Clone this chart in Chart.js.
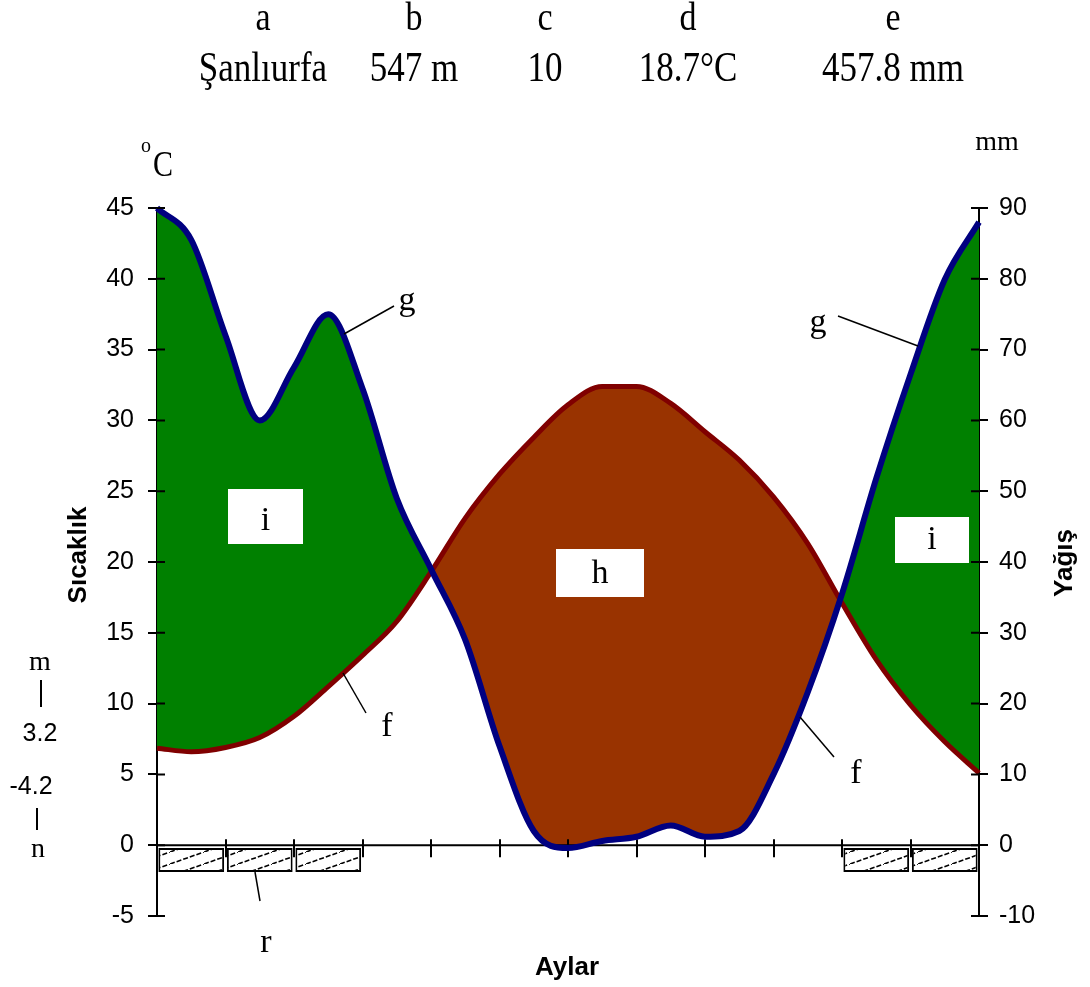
<!DOCTYPE html>
<html>
<head>
<meta charset="utf-8">
<script src="https://cdn.jsdelivr.net/npm/chart.js@4.4.1/dist/chart.umd.min.js"></script>
<style>
  html, body { margin: 0; padding: 0; background: #fff; }
  #wrap { width: 1090px; height: 987px; }
</style>
</head>
<body>
<div id="wrap"><canvas id="climateChart" width="1090" height="987"></canvas></div>
<script>
// x position in months (0 = start of January, 12 = end of December)
const months = [0, 0.5, 1, 1.5, 2, 2.5, 3, 3.5, 4, 4.5, 5, 5.5, 6, 6.5, 7, 7.5, 8, 8.5, 9, 9.5, 10, 10.5, 11, 11.5, 12];
// temperature curve (f), °C, left axis
const temperature = [6.85, 6.6, 6.9, 7.6, 9.1, 11.2, 13.4, 15.8, 19.3, 23.1, 26.2, 28.8, 31.1, 32.4, 32.4, 31.2, 29.2, 27.2, 24.6, 21.3, 17.1, 13.1, 9.9, 7.3, 5.1];
// precipitation curve (g), mm, right axis
const precipitation = [90, 85.5, 72, 60, 67.5, 75, 64.5, 49, 39, 29, 14, 2, -0.4, 0.6, 1.2, 2.8, 1.2, 2.0, 10, 21.6, 35.5, 51.8, 66.5, 79.9, 88];
// months with frost (r), centre of each month, and the band they cover on the °C axis
const frostMonths = [0.5, 1.5, 2.5, 10.5, 11.5];
const frostBand = [-1.9, -0.2];

// station header
const stationKeys = ['a', 'b', 'c', 'd', 'e'];
const stationValues = ['Şanlıurfa', '547 m', '10', '18.7°C', '457.8 mm'];

const serif = "'Liberation Serif', 'Times New Roman', serif";
const sans = "'Liberation Sans', Arial, sans-serif";

// hatch pattern for the frost boxes
const makeHatch = () => {
    const c = document.createElement('canvas');
    c.width = 34; c.height = 12;
    const g = c.getContext('2d');
    g.fillStyle = '#fff';
    g.fillRect(0, 0, 34, 12);
    g.strokeStyle = '#000';
    g.lineWidth = 1.6;
    g.setLineDash([5, 2]);
    g.beginPath();
    g.moveTo(0, 12); g.lineTo(34, 0);
    g.stroke();
    return g.createPattern(c, 'repeat');
};

const drawText = (ctx, str, x, y, font, align) => {
    ctx.font = font;
    ctx.textAlign = align || 'center';
    ctx.fillText(str, x, y);
};

// taller serif text like the scanned header
const drawTall = (ctx, str, x, y, font) => {
    ctx.save();
    ctx.translate(x, y);
    ctx.scale(1, 1.18);
    drawText(ctx, str, 0, 0, font);
    ctx.restore();
};

const line = (ctx, x1, y1, x2, y2) => {
    ctx.beginPath();
    ctx.moveTo(x1, y1);
    ctx.lineTo(x2, y2);
    ctx.stroke();
};

const labelBox = (ctx, str, x1, y1, x2, y2) => {
    ctx.fillStyle = '#fff';
    ctx.fillRect(x1, y1, x2 - x1, y2 - y1);
    ctx.fillStyle = '#000';
    drawText(ctx, str, (x1 + x2) / 2, y2 - 14, '34px ' + serif);
};

const climateDecor = {
    id: 'climateDecor',
    beforeDatasetsDraw(chart) {
        // zero line with month ticks
        const { ctx, scales: { x, y } } = chart;
        const y0 = y.getPixelForValue(0);
        ctx.save();
        ctx.strokeStyle = '#000';
        ctx.lineWidth = 2;
        ctx.beginPath();
        ctx.moveTo(x.left, y0);
        ctx.lineTo(x.right, y0);
        for (let m = 1; m < 12; m++) {
            const px = Math.round(x.getPixelForValue(m));
            ctx.moveTo(px, y0 - 6);
            ctx.lineTo(px, y0 + 12);
        }
        ctx.stroke();
        ctx.restore();
    },
    afterDatasetsDraw(chart) {
        // tick stubs inside the plot
        const { ctx, scales: { x, y, y1 } } = chart;
        ctx.save();
        ctx.strokeStyle = '#000';
        ctx.lineWidth = 2;
        ctx.beginPath();
        y.ticks.forEach(t => {
            const py = y.getPixelForValue(t.value);
            ctx.moveTo(x.left, py); ctx.lineTo(x.left + 8, py);
        });
        y1.ticks.forEach(t => {
            const py = y1.getPixelForValue(t.value);
            ctx.moveTo(x.right, py); ctx.lineTo(x.right - 8, py);
        });
        ctx.stroke();
        ctx.restore();
    },
    afterDraw(chart) {
        const ctx = chart.ctx;
        ctx.save();
        ctx.fillStyle = '#000';
        ctx.strokeStyle = '#000';
        ctx.textBaseline = 'alphabetic';

        // header
        const keyX = [263, 414, 545, 688, 893];
        stationKeys.forEach((k, i) => drawTall(ctx, k, keyX[i], 30, '34px ' + serif));
        stationValues.forEach((v, i) => drawTall(ctx, v, keyX[i], 81, '35px ' + serif));

        // unit labels
        drawText(ctx, 'o', 146, 152, '20px ' + serif);
        drawTall(ctx, 'C', 163, 176, '30px ' + serif);
        drawText(ctx, 'mm', 997, 150, '28px ' + serif);

        // axis titles
        ctx.font = 'bold 26px ' + sans;
        ctx.textAlign = 'center';
        ctx.save(); ctx.translate(86, 555); ctx.rotate(-Math.PI / 2); ctx.fillText('Sıcaklık', 0, 0); ctx.restore();
        ctx.save(); ctx.translate(1072, 563); ctx.rotate(-Math.PI / 2); ctx.fillText('Yağış', 0, 0); ctx.restore();
        drawText(ctx, 'Aylar', 567, 975, 'bold 26px ' + sans);

        // side legend m / n
        drawText(ctx, 'm', 40, 670, '28px ' + serif);
        drawText(ctx, '3.2', 40, 741, '25px ' + sans);
        drawText(ctx, '-4.2', 31, 794, '25px ' + sans);
        drawText(ctx, 'n', 38, 857, '28px ' + serif);
        ctx.lineWidth = 2;
        line(ctx, 41, 680, 41, 707);
        line(ctx, 37, 808, 37, 830);

        // curve labels with leader lines
        ctx.lineWidth = 1.5;
        drawText(ctx, 'g', 407, 310, '34px ' + serif);
        line(ctx, 394, 306, 344, 334);
        drawText(ctx, 'g', 818, 332, '34px ' + serif);
        line(ctx, 838, 316, 918, 346);
        drawText(ctx, 'f', 387, 736, '34px ' + serif);
        line(ctx, 343, 673, 366, 713);
        drawText(ctx, 'f', 856, 783, '34px ' + serif);
        line(ctx, 800, 717, 834, 757);
        drawText(ctx, 'r', 266, 952, '34px ' + serif);
        line(ctx, 255, 872, 260, 901);

        // humid / arid area labels
        labelBox(ctx, 'i', 228, 489, 303, 544);
        labelBox(ctx, 'i', 895, 517, 969, 563);
        labelBox(ctx, 'h', 556, 549, 644, 597);

        ctx.restore();
    }
};

const ctx = document.getElementById('climateChart').getContext('2d');
new Chart(ctx, {
    data: {
        datasets: [
            {
                type: 'line',
                label: 'Sıcaklık',
                data: months.map((m, i) => ({ x: m, y: temperature[i] })),
                yAxisID: 'y',
                borderColor: '#800000',
                borderWidth: 5,
                pointRadius: 0,
                cubicInterpolationMode: 'monotone',
                fill: false,
                clip: 10,
                order: 1
            },
            {
                type: 'line',
                label: 'Yağış',
                data: months.map((m, i) => ({ x: m, y: precipitation[i] })),
                yAxisID: 'y1',
                borderColor: '#000080',
                borderWidth: 6,
                pointRadius: 0,
                cubicInterpolationMode: 'monotone',
                fill: { target: 0, above: '#008000', below: '#993300' },
                clip: 10,
                order: 0
            },
            {
                type: 'bar',
                label: 'Don',
                data: frostMonths.map(m => ({ x: m, y: frostBand })),
                yAxisID: 'y',
                backgroundColor: makeHatch(),
                borderColor: '#000',
                borderWidth: 2,
                borderSkipped: false,
                barPercentage: 1,
                categoryPercentage: 0.96,
                order: 2
            }
        ]
    },
    options: {
        responsive: false,
        animation: false,
        devicePixelRatio: 1,
        layout: { padding: { left: 0, right: 0, top: 208, bottom: 71 } },
        plugins: {
            legend: { display: false },
            tooltip: { enabled: false },
            filler: { drawTime: 'beforeDatasetsDraw' }
        },
        scales: {
            x: {
                type: 'linear',
                min: 0,
                max: 12,
                offset: false,
                display: false
            },
            y: {
                position: 'left',
                min: -5,
                max: 45,
                ticks: { stepSize: 5, color: '#000', padding: 14, font: { family: sans, size: 25 } },
                grid: { drawOnChartArea: false, color: '#000', lineWidth: 2, tickLength: 9 },
                border: { color: '#000', width: 2 },
                afterFit: scale => { scale.width = 157; }
            },
            y1: {
                position: 'right',
                min: -10,
                max: 90,
                ticks: { stepSize: 10, color: '#000', padding: 11, font: { family: sans, size: 25 } },
                grid: { drawOnChartArea: false, color: '#000', lineWidth: 2, tickLength: 9 },
                border: { color: '#000', width: 2 },
                afterFit: scale => { scale.width = 111; }
            }
        }
    },
    plugins: [climateDecor]
});
</script>
</body>
</html>
